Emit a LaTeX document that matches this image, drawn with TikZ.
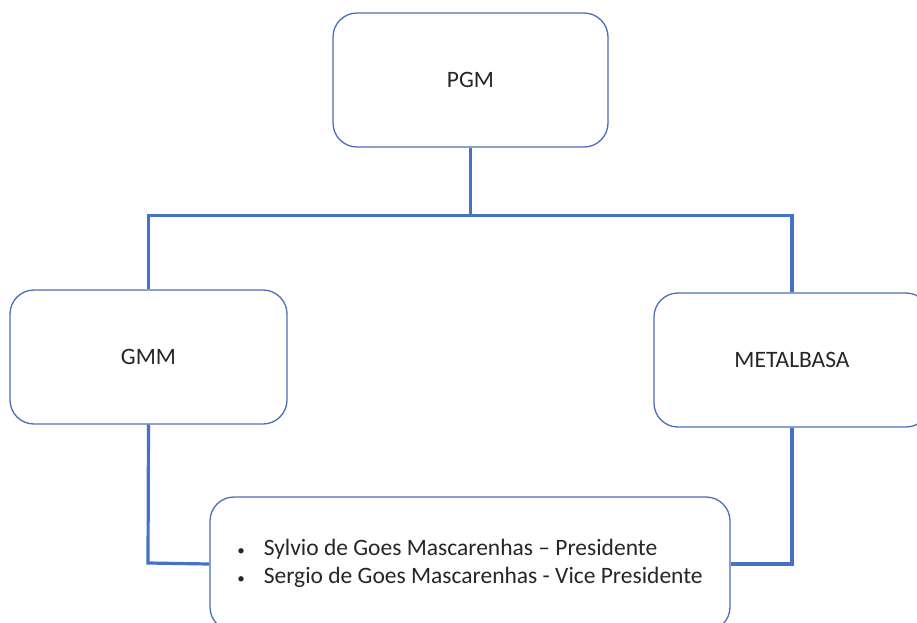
\documentclass[tikz,border=0pt]{standalone}
\usepackage{fontspec}
\setmainfont{Carlito}
\definecolor{lineblue}{HTML}{4472C4}
\definecolor{boxblue}{HTML}{4A6FB5}
\newcommand{\smallbullet}{{\fontsize{15}{15}\selectfont\textbullet}}
\begin{document}
\begin{tikzpicture}[x=1pt,y=-1pt,
  orgbox/.style={draw=boxblue,line width=1.3pt,rounded corners=24pt,fill=white,
    minimum width=275pt,minimum height=134pt,inner sep=0pt,
    font=\fontsize{23.5}{29}\selectfont,text=black!85},
  link/.style={draw=lineblue,line width=3.2pt}]
\useasboundingbox (0,0) rectangle (917,622);
\clip (0,0) rectangle (917,622);
\node[orgbox] (pgm) at (470.5,80) {PGM};
\node[orgbox,minimum width=277pt] (gmm) at (148.5,357) {GMM};
\node[orgbox,minimum width=276pt] (metal) at (792,360) {METALBASA};
\node[orgbox,minimum width=520pt] (people) at (470,564) {%
  \begin{tabular}{@{}l@{\hspace{19pt}}l@{}}
  \smallbullet & Sylvio de Goes Mascarenhas – Presidente\\[-1pt]
  \smallbullet & Sergio de Goes Mascarenhas - Vice Presidente
  \end{tabular}};
\coordinate (bus) at ([yshift=-68pt]pgm.south);
\coordinate (lcorner) at (148,563);
\coordinate (rcorner) at (792,564);
\begin{scope}[on background layer/.try]
\draw[link] (pgm.south) -- (bus);
\draw[link] (gmm.north) -- (gmm.north |- bus) -- (metal.north |- bus) -- (metal.north);
\draw[link] (gmm.south) -- (lcorner) -- (people.west);
\draw[link] (metal.south) -- (rcorner) -- (people.east);
\end{scope}
\end{tikzpicture}
\end{document}
